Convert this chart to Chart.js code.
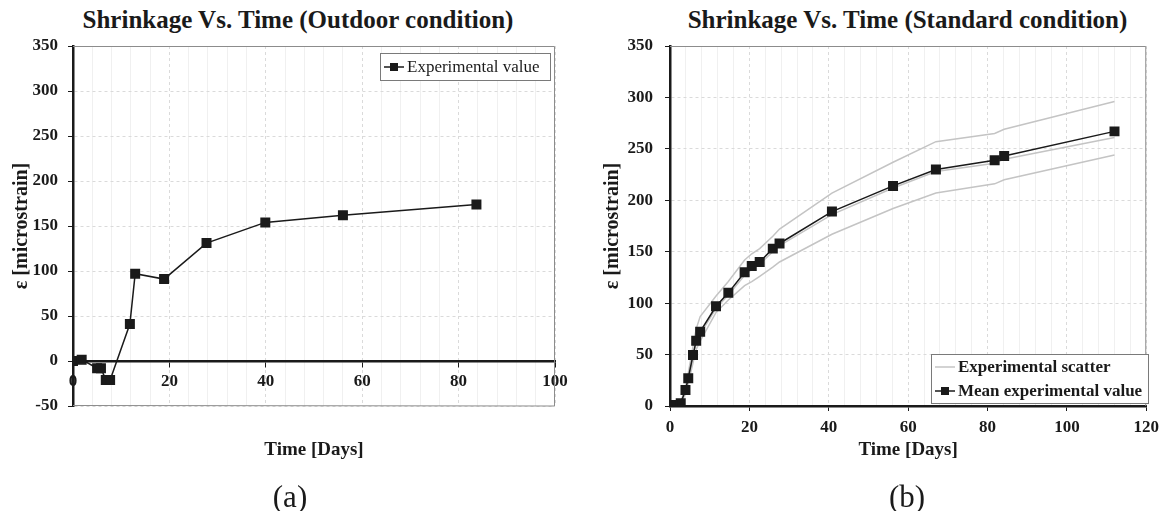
<!DOCTYPE html>
<html>
<head>
<meta charset="utf-8">
<script src="https://cdn.jsdelivr.net/npm/chart.js@4.4.1/dist/chart.umd.min.js"></script>
<style>
body { margin: 0; background: #fff; }
#wrap { position: relative; width: 1165px; height: 511px; font-family: 'Liberation Serif', 'Times New Roman', serif; color: #1a1a1a; }
.ttl { position: absolute; top: 4px; font-weight: bold; font-size: 25px; line-height: 32px; text-align: center; white-space: nowrap; }
.cap { position: absolute; top: 479px; font-size: 31px; line-height: 36px; text-align: center; }
canvas { position: absolute; top: 0; }
</style>
</head>
<body>
<div id="wrap">
  <div class="ttl" style="left:0;width:596px">Shrinkage Vs. Time (Outdoor condition)</div>
  <div class="ttl" style="left:650px;width:515px">Shrinkage Vs. Time (Standard condition)</div>
  <canvas id="chartA" width="580" height="511" style="left:0"></canvas>
  <canvas id="chartB" width="585" height="511" style="left:580px"></canvas>
  <div class="cap" style="left:240px;width:100px">(a)</div>
  <div class="cap" style="left:857px;width:100px">(b)</div>
</div>
<script>
// (a) outdoor condition
const outdoorDays   = [0, 1.8, 5, 5.8, 6.8, 7.7, 11.8, 12.9, 18.9, 27.7, 39.9, 56, 83.7];
const outdoorStrain = [0, 1.5, -8, -8, -21, -21, 41, 97, 91, 131, 154, 162, 174];
const outdoorXTicks = [0, 20, 40, 60, 80, 100];
const outdoorYTicks = [-50, 0, 50, 100, 150, 200, 250, 300, 350];

// (b) standard condition
const stdDays  = [0, 1.2, 2.7, 3.9, 4.6, 5.8, 6.6, 7.6, 11.6, 14.7, 18.8, 20.6, 22.6, 25.9, 27.6, 40.8, 56.2, 67, 81.8, 84.2, 112];
const stdMean  = [0, 1, 2.6, 15.6, 27, 49.6, 63.5, 72.3, 97, 110, 130, 136, 140, 153, 158, 189, 214, 230, 239, 243, 267];
const stdHigh  = [0, 1, 4, 18, 32, 58, 75, 87, 107, 121, 142, 148, 153, 165, 172, 207, 237, 257, 265, 269, 296];
const stdMid   = [0, 1, 2, 14, 26, 47, 61, 70, 95, 108, 127, 133, 138, 150, 156, 186, 212, 228, 236, 240, 261];
const stdLow   = [0, 0.5, 2, 12, 22, 42, 55, 63, 91, 103, 117, 121, 126, 135, 140, 167, 192, 207, 216, 220, 244];
const stdXTicks = [0, 20, 40, 60, 80, 100, 120];
const stdYTicks = [0, 50, 100, 150, 200, 250, 300, 350];

Chart.defaults.font.family = "'Liberation Serif', 'Times New Roman', serif";
Chart.defaults.color = '#1a1a1a';

const ink = '#1a1a1a';
const lightLine = '#c4c4c4';
const gridCol = '#dadada';

function pts(xs, ys) {
    return xs.map((x, i) => ({ x: x, y: ys[i] }));
}
function fixedTicks(list) {
    return scale => { scale.ticks = list.map(v => ({ value: v })); };
}

// grey frame on top/right edges (and bottom if asked)
const frameLines = {
    id: 'frameLines',
    beforeDatasetsDraw(chart, args, opts) {
        const { ctx, chartArea: a } = chart;
        ctx.save();
        ctx.strokeStyle = '#8c8c8c';
        ctx.lineWidth = 1;
        ctx.beginPath();
        ctx.moveTo(a.left, a.top + 0.5);
        ctx.lineTo(a.right - 0.5, a.top + 0.5);
        ctx.lineTo(a.right - 0.5, a.bottom);
        if (opts.bottom) ctx.lineTo(a.left, a.bottom - 0.5);
        ctx.stroke();
        ctx.restore();
    }
};

// boxed legend placed inside the plot
const boxLegend = {
    id: 'boxLegend',
    afterDatasetsDraw(chart, args, opts) {
        if (!opts.items) return;
        const ctx = chart.ctx;
        ctx.save();
        ctx.fillStyle = '#fff';
        ctx.fillRect(opts.x, opts.y, opts.w, opts.h);
        ctx.strokeStyle = '#7a7a7a';
        ctx.lineWidth = 1;
        ctx.strokeRect(opts.x + 0.5, opts.y + 0.5, opts.w, opts.h);
        ctx.font = opts.font;
        ctx.textBaseline = 'middle';
        opts.items.forEach((dsIndex, i) => {
            const ds = chart.data.datasets[dsIndex];
            const cy = opts.y + opts.rowTop + i * opts.rowGap;
            const lx = opts.x + 4;
            ctx.strokeStyle = ds.borderColor;
            ctx.lineWidth = ds.borderWidth;
            ctx.beginPath();
            ctx.moveTo(lx, cy);
            ctx.lineTo(lx + opts.lineLen, cy);
            ctx.stroke();
            if (ds.pointRadius > 0) {
                ctx.fillStyle = ds.pointBackgroundColor;
                ctx.fillRect(lx + opts.lineLen / 2 - 4, cy - 4, 8, 8);
            }
            ctx.fillStyle = ink;
            ctx.fillText(ds.label, lx + opts.lineLen + 3, cy + 1);
        });
        ctx.restore();
    }
};

Chart.register(frameLines, boxLegend);

const tickFont = { size: 17, weight: 'bold' };
const axisTitleFont = { size: 20, weight: 'bold' };
const xTitleFont = { size: 19, weight: 'bold' };

// ---------- chart (a) ----------
new Chart(document.getElementById('chartA'), {
    type: 'line',
    data: {
        datasets: [{
            label: 'Experimental value',
            data: pts(outdoorDays, outdoorStrain),
            borderColor: ink,
            borderWidth: 1.5,
            pointStyle: 'rect',
            pointRadius: 6,
            pointBackgroundColor: ink,
            pointBorderColor: ink,
            tension: 0
        }]
    },
    options: {
        responsive: false,
        animation: false,
        layout: { padding: { top: 46, right: 25, left: 0, bottom: 0 } },
        plugins: {
            legend: { display: false },
            tooltip: { enabled: false },
            frameLines: { bottom: true },
            boxLegend: {
                items: [0], x: 380, y: 53, w: 170, h: 27, rowTop: 14, rowGap: 24, lineLen: 20,
                font: "17px 'Liberation Serif', serif"
            }
        },
        scales: {
            x: {
                type: 'linear', min: 0, max: 100,
                afterBuildTicks: fixedTicks(outdoorXTicks),
                afterFit: s => { s.height = 105; },
                ticks: { display: false },
                grid: { color: gridCol, drawTicks: false },
                border: { display: false, dash: [3, 3] },
                title: { display: true, text: 'Time [Days]', font: xTitleFont, padding: { top: 0, bottom: 49.6 } }
            },
            xm: {
                type: 'linear', position: 'bottom', min: 0, max: 100,
                afterBuildTicks: s => { s.ticks = []; for (let v = 0; v <= 100; v += 4) s.ticks.push({ value: v }); },
                afterFit: s => { s.height = 0; },
                ticks: { display: false },
                grid: { color: c => (c.tick && c.tick.value % 20 === 0) ? 'rgba(0,0,0,0)' : '#f0f0f0', drawTicks: false },
                border: { display: false }
            },
            x0: {
                type: 'linear', position: { y: 0 }, min: 0, max: 100,
                afterBuildTicks: fixedTicks(outdoorXTicks),
                afterFit: s => { s.height = 0; },
                ticks: { font: tickFont, padding: 5, maxRotation: 0 },
                grid: { drawOnChartArea: false, tickLength: 5, tickColor: ink, tickBorderDash: [] },
                border: { color: ink, width: 2.5 }
            },
            y: {
                type: 'linear', min: -50, max: 350,
                afterBuildTicks: fixedTicks(outdoorYTicks),
                afterFit: s => { s.width = 73; },
                ticks: { font: tickFont, padding: 10 },
                grid: { color: gridCol, tickLength: 5, tickColor: ink, tickBorderDash: [] },
                border: { color: ink, width: 2.5, dash: [3, 3] },
                title: { display: true, text: 'ε [microstrain]', font: axisTitleFont, padding: { top: 10, bottom: 0 } }
            }
        }
    }
});

// ---------- chart (b) ----------
const scatterStyle = {
    borderColor: lightLine,
    borderWidth: 1.5,
    pointRadius: 0,
    tension: 0
};

new Chart(document.getElementById('chartB'), {
    type: 'line',
    data: {
        datasets: [
            {
                label: 'Mean experimental value',
                data: pts(stdDays, stdMean),
                borderColor: ink,
                borderWidth: 1.5,
                pointStyle: 'rect',
                pointRadius: 6,
                pointBackgroundColor: ink,
                pointBorderColor: ink,
                tension: 0
            },
            Object.assign({ label: 'Experimental scatter', data: pts(stdDays, stdHigh) }, scatterStyle),
            Object.assign({ label: 'Experimental scatter', data: pts(stdDays, stdMid) }, scatterStyle),
            Object.assign({ label: 'Experimental scatter', data: pts(stdDays, stdLow) }, scatterStyle)
        ]
    },
    options: {
        responsive: false,
        animation: false,
        layout: { padding: { top: 46, right: 15, left: 0, bottom: 0 } },
        plugins: {
            legend: { display: false },
            tooltip: { enabled: false },
            frameLines: { bottom: false },
            boxLegend: {
                items: [1, 0], x: 351, y: 354, w: 217, h: 49, rowTop: 13, rowGap: 24, lineLen: 20,
                font: "bold 17px 'Liberation Serif', serif"
            }
        },
        scales: {
            x: {
                type: 'linear', min: 0, max: 120,
                afterBuildTicks: fixedTicks(stdXTicks),
                afterFit: s => { s.height = 105; },
                ticks: { font: tickFont, padding: 6, maxRotation: 0 },
                grid: { color: gridCol, tickLength: 5, tickColor: ink, tickBorderDash: [] },
                border: { color: ink, width: 2.5, dash: [3, 3] },
                title: { display: true, text: 'Time [Days]', font: xTitleFont, padding: { top: 0, bottom: 49.6 } }
            },
            xm: {
                type: 'linear', position: 'bottom', min: 0, max: 120,
                afterBuildTicks: s => { s.ticks = []; for (let v = 0; v <= 120; v += 4) s.ticks.push({ value: v }); },
                afterFit: s => { s.height = 0; },
                ticks: { display: false },
                grid: { color: c => (c.tick && c.tick.value % 20 === 0) ? 'rgba(0,0,0,0)' : '#f0f0f0', drawTicks: false },
                border: { display: false }
            },
            y: {
                type: 'linear', min: 0, max: 350,
                afterBuildTicks: fixedTicks(stdYTicks),
                afterFit: s => { s.width = 90; },
                ticks: { font: tickFont, padding: 12 },
                grid: { color: gridCol, tickLength: 5, tickColor: ink, tickBorderDash: [] },
                border: { color: ink, width: 2.5, dash: [3, 3] },
                title: { display: true, text: 'ε [microstrain]', font: axisTitleFont, padding: { top: 21, bottom: 0 } }
            }
        }
    }
});
</script>
</body>
</html>
